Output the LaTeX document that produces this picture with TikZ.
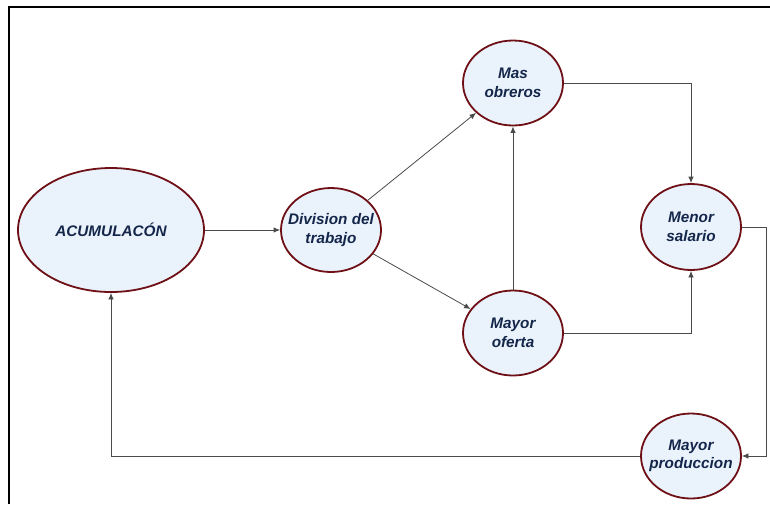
\documentclass[tikz,border=0pt]{standalone}
\usepackage{fontspec}
\setmainfont{Liberation Sans}
\usetikzlibrary{arrows.meta,shapes.geometric}
\definecolor{bubfill}{HTML}{EAF3FC}
\definecolor{bubline}{HTML}{6E1016}
\definecolor{bubtext}{HTML}{14264A}
\definecolor{conline}{HTML}{4A4A4A}
\begin{document}
\begin{tikzpicture}[x=1pt,y=-1pt,
  bub/.style={ellipse, draw=bubline, line width=1.8pt, fill=bubfill, inner sep=0pt},
  txt/.style={text=bubtext, align=center, inner sep=0pt,
    font=\bfseries\itshape\fontsize{15.3}{18.5}\selectfont},
  con/.style={draw=conline, line width=0.8pt, -{Latex[length=6.5pt,width=5.5pt]}}]
\useasboundingbox (0,0) rectangle (770,504);
\draw[line width=2.5pt] (9,504) -- (9,7) -- (770,7);

\node[bub, minimum width=186pt, minimum height=124pt,
  label={[txt]center:ACUMULACÓN}] (acu) at (111,230) {};
\node[bub, minimum width=100pt, minimum height=84pt,
  label={[txt]center:{Division del\\trabajo}}] (div) at (331,230) {};
\node[bub, minimum width=100pt, minimum height=85pt,
  label={[txt]center:{Mas\\obreros}}] (mas) at (513,83) {};
\node[bub, minimum width=100pt, minimum height=86pt,
  label={[txt]center:{Menor\\salario}}] (men) at (691,227) {};
\node[bub, minimum width=100pt, minimum height=85pt,
  label={[txt]center:{Mayor\\oferta}}] (ofe) at (513,333) {};
\node[bub, minimum width=100pt, minimum height=85pt,
  label={[txt]center:{Mayor\\produccion}}] (pro) at (691,456) {};

\draw[con] (acu.east) -- (div.west);
\draw[con] (div) -- (mas);
\draw[con] (div) -- (ofe);
\draw[con] (mas.east) -| (men.north);
\draw[con] (ofe.north) -- (mas.south);
\draw[con] (ofe.east) -| (men.south);
\draw[con] (men.east) -- ++(24,0) |- (pro.east);
\draw[con] (pro.west) -| (acu.south);
\end{tikzpicture}
\end{document}
